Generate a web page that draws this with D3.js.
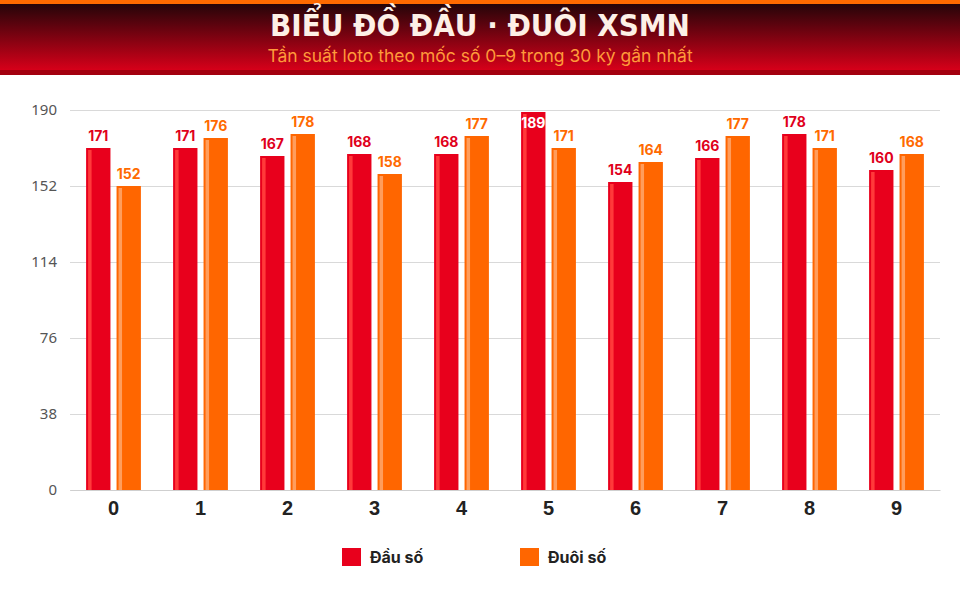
<!DOCTYPE html>
<html>
<head>
<meta charset="utf-8">
<script src="https://cdn.jsdelivr.net/npm/d3@7"></script>
<style>
  body { margin: 0; background: #fff; }
  svg { display: block; font-family: Inter, 'Noto Sans', sans-serif; }
</style>
</head>
<body>
<div id="chart-area"></div>
<script>
// data
var digits = ['0', '1', '2', '3', '4', '5', '6', '7', '8', '9']
var dauSo = [171, 171, 167, 168, 168, 189, 154, 166, 178, 160]
var duoiSo = [152, 176, 178, 158, 177, 171, 164, 177, 171, 168]
var yTicks = [0, 38, 76, 114, 152, 190]
var seriesNames = ['Đầu số', 'Đuôi số']

var W = 960, H = 600
var margin = { left: 70, right: 20, top: 110, bottom: 110 }
var width = W - margin.left - margin.right
var height = H - margin.top - margin.bottom

var colors = { 'Đầu số': '#e8001c', 'Đuôi số': '#ff6600' }
var shine = { 'Đầu số': '#ff3a3a', 'Đuôi số': '#ff9d5c' }
var labelColors = { 'Đầu số': '#e0001b', 'Đuôi số': '#ff6a00' }

var rows = digits.map((d, i) => ({
    digit: d,
    values: [
        { key: seriesNames[0], value: dauSo[i] },
        { key: seriesNames[1], value: duoiSo[i] }
    ]
}))

var svg = d3.select('#chart-area')
    .append('svg')
        .attr('width', W)
        .attr('height', H)

// header
var defs = svg.append('defs')
var grad = defs.append('linearGradient')
    .attr('id', 'hdr')
    .attr('x1', 0).attr('y1', 0).attr('x2', 0).attr('y2', 1)
grad.append('stop').attr('offset', '0%').attr('stop-color', '#1a0508')
grad.append('stop').attr('offset', '100%').attr('stop-color', '#d60019')

svg.append('rect').attr('x', 0).attr('y', 0).attr('width', W).attr('height', 75)
    .attr('fill', '#a3000f')
svg.append('rect').attr('x', 0).attr('y', 0).attr('width', W).attr('height', 70)
    .attr('fill', 'url(#hdr)')
svg.append('rect').attr('x', 0).attr('y', 0).attr('width', W).attr('height', 4)
    .attr('fill', '#ff6a00')

svg.append('text')
    .attr('x', W / 2)
    .attr('y', 36)
    .attr('text-anchor', 'middle')
    .attr('font-family', "'DejaVu Sans Condensed', 'DejaVu Sans', sans-serif")
    .attr('font-weight', 'bold')
    .attr('font-size', '31px')
    .attr('fill', '#fdf0e6')
    .text('BIỂU ĐỒ ĐẦU · ĐUÔI XSMN')

svg.append('text')
    .attr('x', W / 2)
    .attr('y', 62)
    .attr('text-anchor', 'middle')
    .attr('font-size', '17.5px')
    .attr('fill', '#ff9a3a')
    .text('Tần suất loto theo mốc số 0–9 trong 30 kỳ gần nhất')

var g = svg.append('g')
    .attr('transform', `translate(${margin.left}, ${margin.top})`)

// scales
var x0 = d3.scaleBand()
    .domain(digits)
    .range([0, width])
    .paddingInner(0.37)
    .paddingOuter(0.185)

var x1 = d3.scaleBand()
    .domain(seriesNames)
    .range([0, x0.bandwidth()])
    .paddingInner(0.2)

var y = d3.scaleLinear()
    .domain([0, 190])
    .range([height, 0])

// grid + y axis
var yAxisGroup = g.append('g')
    .attr('class', 'y axis')
    .call(d3.axisLeft(y).tickValues(yTicks).tickSize(-width).tickPadding(13))
yAxisGroup.select('.domain').remove()
yAxisGroup.selectAll('line').attr('stroke', '#d9d9d9')
yAxisGroup.selectAll('text')
    .attr('font-size', '15px')
    .attr('fill', '#555')
    .attr('font-family', "'Noto Sans', sans-serif")

// x axis
var xAxisGroup = g.append('g')
    .attr('class', 'x axis')
    .attr('transform', `translate(0, ${height})`)
    .call(d3.axisBottom(x0).tickSize(0).tickPadding(11))
xAxisGroup.select('.domain').attr('stroke', '#cfcfcf')
xAxisGroup.selectAll('text')
    .attr('font-size', '20px')
    .attr('font-weight', '800')
    .attr('fill', '#222')

// bars
var groups = g.selectAll('.digit')
    .data(rows)
    .enter().append('g')
        .attr('class', 'digit')
        .attr('transform', d => `translate(${x0(d.digit)}, 0)`)

var bars = groups.selectAll('.bar')
    .data(d => d.values)
    .enter().append('g')
        .attr('class', 'bar')

bars.append('rect')
    .attr('x', d => x1(d.key))
    .attr('y', d => y(d.value))
    .attr('width', x1.bandwidth())
    .attr('height', d => height - y(d.value))
    .attr('fill', d => colors[d.key])

bars.append('rect')
    .attr('x', d => x1(d.key) + 2)
    .attr('y', d => y(d.value) + 2)
    .attr('width', 3.5)
    .attr('height', d => height - y(d.value) - 2)
    .attr('fill', d => shine[d.key])

// value labels
bars.append('text')
    .attr('x', d => x1(d.key) + x1.bandwidth() / 2)
    .attr('y', d => {
        var top = y(d.value)
        return top - 7 < 15 ? top + 16 : top - 7
    })
    .attr('text-anchor', 'middle')
    .attr('font-size', '14px')
    .attr('font-weight', 'bold')
    .attr('fill', d => y(d.value) - 7 < 15 ? '#fff' : labelColors[d.key])
    .text(d => d.value)

// legend
var legend = svg.append('g')
    .attr('transform', 'translate(342, 548)')

var item = legend.selectAll('.item')
    .data(seriesNames)
    .enter().append('g')
        .attr('class', 'item')
        .attr('transform', (d, i) => `translate(${i * 178}, 0)`)

item.append('rect')
    .attr('width', 19)
    .attr('height', 18)
    .attr('fill', d => colors[d])

item.append('text')
    .attr('x', 28)
    .attr('y', 14.5)
    .attr('font-size', '16px')
    .attr('font-weight', 'bold')
    .attr('fill', '#222')
    .text(d => d)
</script>
</body>
</html>
